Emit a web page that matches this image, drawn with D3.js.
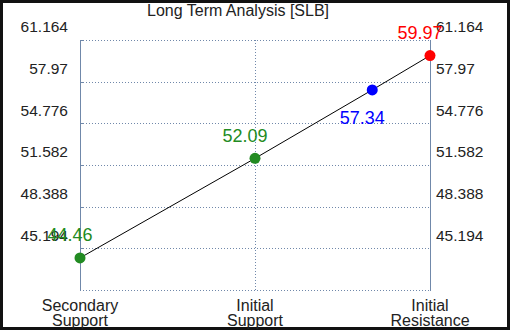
<!DOCTYPE html>
<html><head><meta charset="utf-8">
<script src="https://cdn.jsdelivr.net/npm/d3@7"></script>
<style>
html,body{margin:0;padding:0;background:#111;}
svg{display:block;font-family:Arial,"Liberation Sans",sans-serif;}
</style></head>
<body><svg id="c" width="510" height="330"></svg>
<script>
const title = "Long Term Analysis [SLB]";
const categories = [["Secondary","Support"],["Initial","Support"],["Initial","Resistance"]];
const tickValues = [45.194, 48.388, 51.582, 54.776, 57.97, 61.164];
const yDomain = [42.0, 61.164];
const pointPos = [0, 1, 1.67, 2];
const pointVals = [44.46, 52.09, 57.34, 59.97];
const pointColors = ["#228B22", "#228B22", "#0000FF", "#FF0000"];
const labelBelow = [false, false, true, false];

const svg = d3.select("#c");
svg.append("rect").attr("x",3).attr("y",3).attr("width",504).attr("height",324).attr("fill","#fff");

const L=80, R=430, T=40, B=290;
const x = d3.scaleLinear().domain([0,2]).range([L,R]);
const y = d3.scaleLinear().domain(yDomain).range([B,T]);
const gridC = "#7088aa";

svg.append("g").selectAll("line").data(tickValues.concat([yDomain[0]])).join("line")
  .attr("x1",L).attr("x2",R).attr("y1",d=>Math.round(y(d))+0.5).attr("y2",d=>Math.round(y(d))+0.5)
  .attr("stroke",gridC).attr("stroke-width",1).attr("stroke-dasharray","1,2");
svg.append("g").selectAll("line").data(tickValues).join("line")
  .attr("x1",L).attr("x2",L+4).attr("y1",d=>Math.round(y(d))+0.5).attr("y2",d=>Math.round(y(d))+0.5)
  .attr("stroke",gridC);
svg.append("line").attr("x1",x(1)+0.5).attr("x2",x(1)+0.5).attr("y1",T).attr("y2",B)
  .attr("stroke",gridC).attr("stroke-dasharray","1,2");
[L,R].forEach(px=>svg.append("line").attr("x1",px+0.5).attr("x2",px+0.5).attr("y1",T).attr("y2",B+1)
  .attr("stroke",gridC).attr("stroke-width",1));

const fmt = d=>String(d);
svg.append("g").selectAll("text").data(tickValues).join("text")
  .attr("x",68).attr("y",d=>y(d)-13).attr("dy","0.35em").attr("text-anchor","end")
  .attr("font-size",15.5).attr("fill","#222").text(fmt);
svg.append("g").selectAll("text").data(tickValues).join("text")
  .attr("x",436).attr("y",d=>y(d)-13).attr("dy","0.35em").attr("text-anchor","start")
  .attr("font-size",15.5).attr("fill","#222").text(fmt);

categories.forEach((c,i)=>{
  c.forEach((s,j)=>svg.append("text").attr("x",x(i)).attr("y",305+j*15).attr("dy","0.35em")
    .attr("text-anchor","middle").attr("font-size",16).attr("fill","#222").text(s));
});

svg.append("text").attr("x",238).attr("y",10).attr("dy","0.35em").attr("text-anchor","middle")
  .attr("font-size",16).attr("fill","#222").text(title);

const pts = pointPos.map((p,i)=>[p,pointVals[i]]);
svg.append("path").datum(pts).attr("fill","none").attr("stroke","#000").attr("stroke-width",1)
  .attr("d",d3.line().x(d=>x(d[0])).y(d=>y(d[1])));

svg.append("g").selectAll("circle").data(pts).join("circle")
  .attr("cx",d=>x(d[0])).attr("cy",d=>y(d[1])).attr("r",5.5)
  .attr("fill",(d,i)=>pointColors[i]);

svg.append("g").selectAll("text").data(pts).join("text")
  .attr("x",d=>x(d[0])-10).attr("y",(d,i)=>y(d[1]) + (labelBelow[i]?28:-23)).attr("dy","0.35em")
  .attr("text-anchor","middle").attr("font-size",18).attr("fill",(d,i)=>pointColors[i])
  .text((d,i)=>pointVals[i].toFixed(2));
</script></body></html>
